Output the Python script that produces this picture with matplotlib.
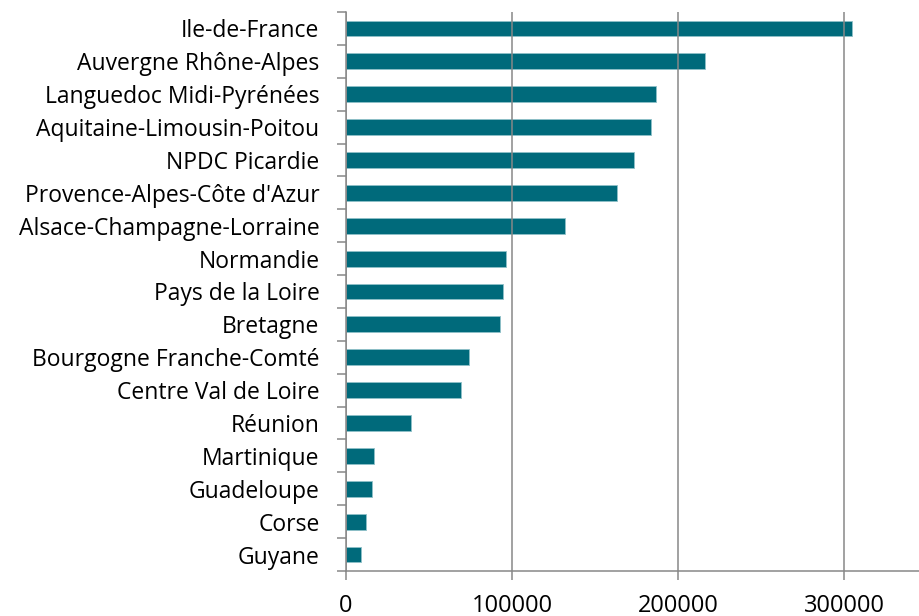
import numpy as np
import matplotlib
matplotlib.use("Agg")
import matplotlib.pyplot as plt
from matplotlib.ticker import FixedLocator

# regions, top to bottom
regions = ["Ile-de-France", "Auvergne Rhône-Alpes", "Languedoc Midi-Pyrénées",
           "Aquitaine-Limousin-Poitou", "NPDC Picardie", "Provence-Alpes-Côte d'Azur",
           "Alsace-Champagne-Lorraine", "Normandie", "Pays de la Loire", "Bretagne",
           "Bourgogne Franche-Comté", "Centre Val de Loire", "Réunion", "Martinique",
           "Guadeloupe", "Corse", "Guyane"]
values = [305000, 216000, 187000, 184000, 173700, 163000, 131700, 96200, 94800,
          92600, 73900, 69100, 39400, 16700, 15700, 11900, 8800]
xticks = [0, 100000, 200000, 300000]

bar_color = "#006a7b"
grey = "#878787"

plt.rcParams['font.family'] = ['Open Sans', 'DejaVu Sans']

fig = plt.figure(figsize=(9.19, 6.16), dpi=100)
ax = fig.add_axes([346 / 919, 1 - 571 / 616, 1 - 346 / 919, (571 - 12) / 616])

n = len(regions)
y = np.arange(n)[::-1]
ax.barh(y, values, height=0.48, color=bar_color, edgecolor="#8fc1c9", linewidth=0.6)

ax.set_ylim(-0.5, n - 0.5)
ax.set_xlim(0, 345200)

ax.set_yticks(y)
ax.set_yticklabels(regions, fontsize=16.5)
ax.yaxis.set_minor_locator(FixedLocator(np.arange(n + 1) - 0.5))
ax.tick_params(axis="y", which="major", length=0, pad=19)
ax.tick_params(axis="y", which="minor", length=6.3, width=1.1, color=grey)

ax.set_xticks(xticks)
ax.set_xticklabels([str(v) for v in xticks], fontsize=17)
ax.tick_params(axis="x", which="major", length=6.3, width=1.1, color=grey, pad=10)

ax.grid(axis="x", color=grey, linewidth=1.1)
ax.set_axisbelow(False)

for s in ["top", "right"]:
    ax.spines[s].set_visible(False)
for s in ["left", "bottom"]:
    ax.spines[s].set_color(grey)
    ax.spines[s].set_linewidth(1.1)

fig.savefig("out.png", dpi=100)
